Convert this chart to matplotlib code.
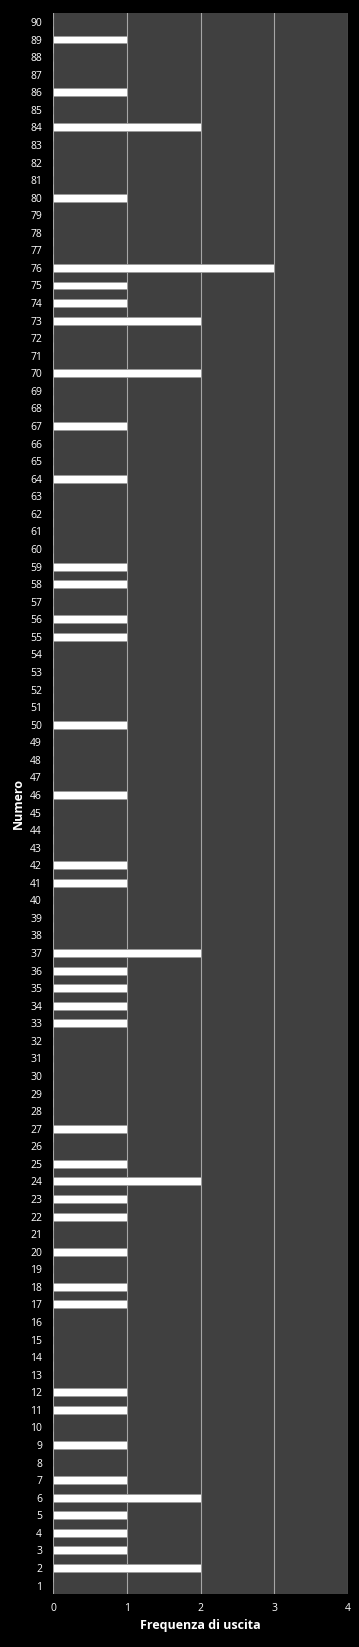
import matplotlib
matplotlib.use('Agg')
import matplotlib.pyplot as plt
import numpy as np

# --- Data ---
numeri = list(range(1, 91))
# frequency for each number 1..90
frequenze = [
    0, 2, 1, 1, 1, 2, 1, 0, 1, 0,   # 1-10
    1, 1, 0, 0, 0, 0, 1, 1, 0, 1,   # 11-20
    0, 1, 1, 2, 1, 0, 1, 0, 0, 0,   # 21-30
    0, 0, 1, 1, 1, 1, 2, 0, 0, 0,   # 31-40
    1, 1, 0, 0, 0, 1, 0, 0, 0, 1,   # 41-50
    0, 0, 0, 0, 1, 1, 0, 1, 1, 0,   # 51-60
    0, 0, 0, 1, 0, 0, 1, 0, 0, 2,   # 61-70
    0, 0, 2, 1, 1, 3, 0, 0, 0, 1,   # 71-80
    0, 0, 0, 2, 0, 1, 0, 0, 1, 0,   # 81-90
]
x_ticks = [0, 1, 2, 3, 4]

plt.rcParams['font.family'] = ['Open Sans', 'DejaVu Sans']

fig = plt.figure(figsize=(3.59, 16.47), dpi=100, facecolor='black')
ax = fig.add_axes([0.148, 0.032, 0.821, 0.960])
ax.set_facecolor('#404040')

# vertical gridlines
for xv in x_ticks:
    ax.axvline(xv, color='#a6a6a6', linewidth=0.8, zorder=1)

ax.barh(numeri, frequenze, height=0.45, color='white',
        edgecolor='#9a9a9a', linewidth=0.6, zorder=3)

ax.set_xlim(0, 4)
ax.set_ylim(0.5, 90.5)
ax.set_xticks(x_ticks)
ax.set_yticks(numeri)
ax.set_yticklabels([str(n) for n in numeri])

ax.tick_params(axis='both', colors='white', labelsize=7.5, length=0)
ax.tick_params(axis='x', pad=6)
ax.tick_params(axis='y', pad=8)
for s in ax.spines.values():
    s.set_visible(False)

ax.set_xlabel('Frequenza di uscita', color='white', fontsize=9, fontweight='bold', labelpad=4)
ax.set_ylabel('Numero', color='white', fontsize=9, fontweight='bold', labelpad=4)

plt.savefig('out.png', dpi=100, facecolor='black')
plt.close()
